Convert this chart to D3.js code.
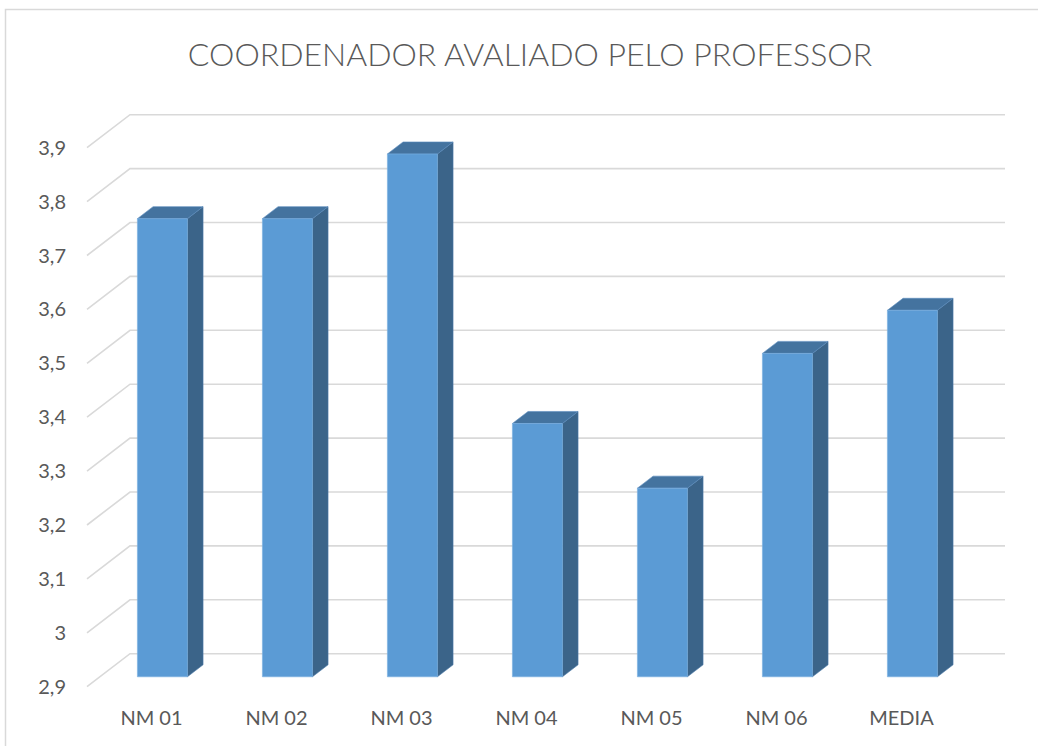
<!DOCTYPE html>
<html>
<head>
<meta charset="utf-8">
<script src="https://cdn.jsdelivr.net/npm/d3@7"></script>
<style>
  html, body { margin: 0; padding: 0; background: #fff; }
  svg { display: block; }
  text { font-family: "Lato", "Noto Sans", sans-serif; fill: #595959; }
</style>
</head>
<body>
<svg id="chart" width="1038" height="746"></svg>
<script>
const title = "COORDENADOR AVALIADO PELO PROFESSOR";
const categories = ["NM 01", "NM 02", "NM 03", "NM 04", "NM 05", "NM 06", "MEDIA"];
const values = [3.75, 3.75, 3.87, 3.37, 3.25, 3.50, 3.58];
const tickValues = [2.9, 3.0, 3.1, 3.2, 3.3, 3.4, 3.5, 3.6, 3.7, 3.8, 3.9];

const svg = d3.select("#chart");
const W = 1038, H = 746;

// chart border (cropped on right/bottom)
svg.append("rect").attr("x", 5.5).attr("y", 9.5).attr("width", W + 10).attr("height", H + 10)
  .attr("fill", "#fff").attr("stroke", "#d9d9d9").attr("stroke-width", 1.5);

svg.append("text").attr("x", 530).attr("y", 66).attr("text-anchor", "middle")
  .style("font-size", "32px").style("font-weight", "300").text(title);

// 3D geometry
const depthDx = 43, depthDy = -33;
const frontLeft = 87, frontRight = 962;
const y = d3.scaleLinear().domain([2.9, 3.9]).range([686.7, 147.7]);
const x = d3.scaleBand().domain(categories).range([frontLeft, frontRight])
  .paddingInner(0.6).paddingOuter(0.3);

function P(px, v, d) { return [px + d * depthDx, y(v) + d * depthDy]; }

// gridlines
const grid = svg.append("g");
tickValues.forEach(t => {
  const a = P(frontLeft, t, 0), b = P(frontLeft, t, 1), c = P(frontRight, t, 1);
  grid.append("path")
    .attr("d", d3.line()([a, b, c]))
    .attr("fill", "none").attr("stroke", "#d9d9d9").attr("stroke-width", 1.6);
});

// y tick labels
const fmt = v => (Math.round(v * 10) / 10).toString().replace(".", ",");
svg.append("g").selectAll("text").data(tickValues).join("text")
  .attr("x", 66).attr("y", d => y(d) + 7)
  .attr("text-anchor", "end").style("font-size", "20px")
  .text(fmt);

// bars
const d0 = 0.30, d1 = 0.664;
const base = 2.9;
const bars = svg.append("g");
categories.forEach((c, i) => {
  const v = values[i];
  const xl = x(c), xr = x(c) + x.bandwidth();
  const fTL = P(xl, v, d0), fTR = P(xr, v, d0), fBR = P(xr, base, d0), fBL = P(xl, base, d0);
  const bTL = P(xl, v, d1), bTR = P(xr, v, d1), bBR = P(xr, base, d1);
  bars.append("path").attr("d", d3.line()([fTR, bTR, bBR, fBR]) + "Z")
    .attr("fill", "#3b6489").attr("stroke", "#4a79a8").attr("stroke-width", 0.6);
  bars.append("path").attr("d", d3.line()([fTL, bTL, bTR, fTR]) + "Z")
    .attr("fill", "#44739f").attr("stroke", "#5a8bbd").attr("stroke-width", 0.6);
  bars.append("path").attr("d", d3.line()([fTL, fTR, fBR, fBL]) + "Z")
    .attr("fill", "#5b9bd5").attr("stroke", "#7aaee0").attr("stroke-width", 0.6);
});

// x labels
svg.append("g").selectAll("text").data(categories).join("text")
  .attr("x", d => x(d) + x.bandwidth() / 2 + 2)
  .attr("y", 725).attr("text-anchor", "middle").style("font-size", "20px")
  .text(d => d);
</script>
</body>
</html>
